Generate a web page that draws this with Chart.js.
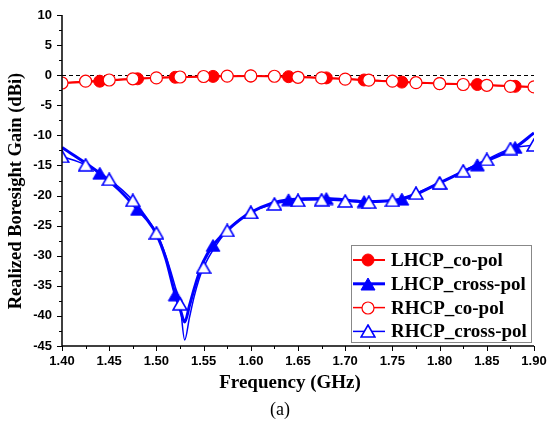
<!DOCTYPE html>
<html>
<head>
<meta charset="utf-8">
<script src="https://cdn.jsdelivr.net/npm/chart.js@4/dist/chart.umd.min.js"></script>
<style>
  html, body { margin: 0; padding: 0; background: #fff; }
</style>
</head>
<body>
<canvas id="grafico" width="547" height="426"></canvas>
<script>
// Dados (frequência em GHz, ganho em dBi)
const lhcpCoFreq = [1.40, 1.44, 1.48, 1.52, 1.56, 1.60, 1.64, 1.68, 1.72, 1.76, 1.80, 1.84, 1.88, 1.90];
const lhcpCoGain = [-1.3, -1.0, -0.6, -0.35, -0.2, -0.15, -0.25, -0.45, -0.8, -1.15, -1.4, -1.55, -1.85, -1.95];

const lhcpCrossFreq = [1.40, 1.44, 1.46, 1.48, 1.49, 1.50, 1.51, 1.52, 1.525, 1.53, 1.535, 1.54, 1.545, 1.55, 1.56, 1.575, 1.60, 1.64, 1.68, 1.72, 1.76, 1.80, 1.84, 1.88, 1.90];
const lhcpCrossGain = [-12.0, -16.3, -19.0, -22.3, -24.0, -26.4, -30.5, -36.5, -38.8, -41.0, -38.3, -35.5, -33.0, -30.9, -28.3, -25.8, -22.8, -20.7, -20.5, -21.0, -20.6, -17.9, -14.9, -12.0, -9.6];

const rhcpCoFreq = [1.40, 1.425, 1.45, 1.475, 1.50, 1.525, 1.55, 1.575, 1.60, 1.625, 1.65, 1.675, 1.70, 1.725, 1.75, 1.775, 1.80, 1.825, 1.85, 1.875, 1.90];
const rhcpCoGain = [-1.3, -1.0, -0.8, -0.6, -0.45, -0.3, -0.22, -0.15, -0.12, -0.18, -0.35, -0.45, -0.65, -0.83, -1.0, -1.25, -1.4, -1.55, -1.68, -1.85, -1.95];

const rhcpCrossFreq = [1.40, 1.425, 1.45, 1.475, 1.50, 1.505, 1.51, 1.515, 1.52, 1.525, 1.53, 1.535, 1.54, 1.545, 1.55, 1.575, 1.60, 1.625, 1.65, 1.675, 1.70, 1.725, 1.75, 1.775, 1.80, 1.825, 1.85, 1.875, 1.90];
const rhcpCrossGain = [-13.5, -14.9, -17.3, -20.8, -26.2, -27.9, -30.0, -32.5, -35.2, -38.0, -44.0, -40.3, -36.8, -34.0, -31.9, -25.8, -22.8, -21.4, -20.8, -20.7, -20.9, -21.1, -20.8, -19.6, -17.9, -15.9, -14.0, -12.2, -11.6];

// Frequências onde aparecem os símbolos
const lhcpMarkerFreq = [1.44, 1.48, 1.52, 1.56, 1.60, 1.64, 1.68, 1.72, 1.76, 1.80, 1.84, 1.88];
const rhcpMarkerFreq = [1.40, 1.425, 1.45, 1.475, 1.50, 1.525, 1.55, 1.575, 1.60, 1.625, 1.65, 1.675, 1.70, 1.725, 1.75, 1.775, 1.80, 1.825, 1.85, 1.875, 1.90];

const xTicks = [1.40, 1.45, 1.50, 1.55, 1.60, 1.65, 1.70, 1.75, 1.80, 1.85, 1.90];
const yTicks = [10, 5, 0, -5, -10, -15, -20, -25, -30, -35, -40, -45];

const RED = '#ff0000';
const BLUE = '#0000ff';

function pontos(freq, gain) {
  return freq.map((f, i) => ({ x: f, y: gain[i] }));
}

// Mostra o símbolo só nas frequências marcadas
function raio(lista, r) {
  return ctx => lista.some(f => Math.abs(f - ctx.raw.x) < 1e-6) ? r : 0;
}

// Triângulo centrado pela caixa (como no Origin), não pelo baricentro
function triangulo(fill, stroke, lw) {
  const c = document.createElement('canvas');
  c.width = 16; c.height = 14;
  const g = c.getContext('2d');
  g.beginPath();
  g.moveTo(8, 1);
  g.lineTo(15, 13);
  g.lineTo(1, 13);
  g.closePath();
  g.fillStyle = fill;
  g.fill();
  g.lineWidth = lw;
  g.strokeStyle = stroke;
  g.stroke();
  return c;
}

const triCheio = triangulo(BLUE, BLUE, 1);
const triVazio = triangulo('#fff', BLUE, 1.6);

const datasets = [
  {
    label: 'LHCP_co-pol',
    data: pontos(lhcpCoFreq, lhcpCoGain),
    borderColor: RED, backgroundColor: RED, borderWidth: 2,
    pointStyle: 'circle', pointRadius: raio(lhcpMarkerFreq, 6),
    pointBackgroundColor: RED, pointBorderColor: RED, pointBorderWidth: 1,
    order: 2
  },
  {
    label: 'LHCP_cross-pol',
    data: pontos(lhcpCrossFreq, lhcpCrossGain),
    borderColor: BLUE, backgroundColor: BLUE, borderWidth: 3,
    pointStyle: triCheio, pointRadius: raio(lhcpMarkerFreq, 7),
    pointBackgroundColor: BLUE, pointBorderColor: BLUE, pointBorderWidth: 1,
    order: 2
  },
  {
    label: 'RHCP_co-pol',
    data: pontos(rhcpCoFreq, rhcpCoGain),
    borderColor: RED, backgroundColor: '#fff', borderWidth: 1.5,
    pointStyle: 'circle', pointRadius: raio(rhcpMarkerFreq, 6),
    pointBackgroundColor: '#fff', pointBorderColor: RED, pointBorderWidth: 1.2,
    order: 1
  },
  {
    label: 'RHCP_cross-pol',
    data: pontos(rhcpCrossFreq, rhcpCrossGain),
    borderColor: BLUE, backgroundColor: '#fff', borderWidth: 1.5,
    pointStyle: triVazio, pointRadius: raio(rhcpMarkerFreq, 7),
    pointBackgroundColor: '#fff', pointBorderColor: BLUE, pointBorderWidth: 1.2,
    order: 1
  }
];

// Eixos, marcas menores, títulos e legenda desenhados à mão
const eixos = {
  id: 'eixos',
  beforeDatasetsDraw(chart) {
    const { ctx, chartArea: a, scales: { y } } = chart;
    const y0 = Math.round(y.getPixelForValue(0)) + 0.5;
    ctx.save();
    ctx.strokeStyle = '#000';
    ctx.lineWidth = 1;
    ctx.setLineDash([4, 3]);
    ctx.beginPath();
    ctx.moveTo(a.left, y0);
    ctx.lineTo(a.right, y0);
    ctx.stroke();
    ctx.restore();
  },
  afterDraw(chart) {
    const { ctx, chartArea: a, scales: { x, y } } = chart;
    ctx.save();
    ctx.strokeStyle = '#000';
    ctx.lineWidth = 1.5;
    ctx.beginPath();
    ctx.moveTo(a.left, a.top);
    ctx.lineTo(a.left, a.bottom);
    ctx.lineTo(a.right, a.bottom);
    ctx.stroke();

    ctx.lineWidth = 1;
    ctx.beginPath();
    // marcas do eixo x (maiores a cada 0.05, menores a cada 0.025)
    for (let i = 0; i <= 20; i++) {
      const px = Math.round(x.getPixelForValue(1.40 + i * 0.025)) + 0.5;
      const len = i % 2 === 0 ? 5 : 3;
      ctx.moveTo(px, a.bottom);
      ctx.lineTo(px, a.bottom + len);
    }
    // marcas do eixo y
    for (let i = 0; i <= 22; i++) {
      const py = Math.round(y.getPixelForValue(-45 + i * 2.5)) + 0.5;
      const len = i % 2 === 0 ? 5 : 3;
      ctx.moveTo(a.left, py);
      ctx.lineTo(a.left - len, py);
    }
    ctx.stroke();

    // títulos
    ctx.fillStyle = '#000';
    ctx.textAlign = 'center';
    ctx.textBaseline = 'middle';
    ctx.font = 'bold 19px "Liberation Serif"';
    ctx.fillText('Frequency (GHz)', 290, 383);
    ctx.font = '18px "Liberation Serif"';
    ctx.fillText('(a)', 280, 410);
    ctx.save();
    ctx.translate(16, 191);
    ctx.rotate(-Math.PI / 2);
    ctx.font = 'bold 18.5px "Liberation Serif"';
    ctx.fillText('Realized Boresight Gain (dBi)', 0, 0);
    ctx.restore();

    // legenda
    const bx = 351, by = 245, bw = 180, bh = 97;
    ctx.fillStyle = '#fff';
    ctx.fillRect(bx, by, bw, bh);
    ctx.strokeStyle = '#888';
    ctx.lineWidth = 1;
    ctx.strokeRect(bx + 0.5, by + 0.5, bw, bh);
    chart.data.datasets.forEach((ds, i) => {
      const ly = 260 + i * 23.8;
      ctx.strokeStyle = ds.borderColor;
      ctx.lineWidth = ds.borderWidth;
      ctx.beginPath();
      ctx.moveTo(353, ly);
      ctx.lineTo(385, ly);
      ctx.stroke();
      ctx.fillStyle = ds.pointBackgroundColor;
      ctx.strokeStyle = ds.pointBorderColor;
      ctx.lineWidth = ds.pointBorderWidth;
      Chart.helpers.drawPoint(ctx, {
        pointStyle: ds.pointStyle,
        radius: 6,
        rotation: 0,
        borderWidth: ds.pointBorderWidth
      }, 368, Math.round(ly));
      ctx.fillStyle = '#000';
      ctx.textAlign = 'left';
      ctx.font = 'bold 19px "Liberation Serif"';
      ctx.fillText(ds.label, 391, ly + 1);
    });
    ctx.restore();
  }
};

new Chart(document.getElementById('grafico'), {
  type: 'line',
  data: { datasets },
  options: {
    responsive: false,
    animation: false,
    devicePixelRatio: 1,
    layout: { padding: { left: 0, right: 13, top: 15, bottom: 0 } },
    elements: { line: { cubicInterpolationMode: 'monotone' } },
    plugins: { legend: { display: false }, tooltip: { enabled: false } },
    scales: {
      x: {
        type: 'linear', min: 1.40, max: 1.90,
        afterBuildTicks: s => { s.ticks = xTicks.map(v => ({ value: v })); },
        afterFit: s => { s.height = 80; s.paddingLeft = 0; s.paddingRight = 0; },
        ticks: {
          callback: v => v.toFixed(2),
          color: '#000', padding: 8, maxRotation: 0, autoSkip: false,
          font: { family: 'Liberation Sans', weight: 'bold', size: 13 }
        },
        grid: { display: false, drawTicks: false },
        border: { display: false }
      },
      y: {
        type: 'linear', min: -45, max: 10,
        afterBuildTicks: s => { s.ticks = yTicks.map(v => ({ value: v })); },
        afterFit: s => { s.width = 62; s.paddingTop = 0; s.paddingBottom = 0; },
        ticks: {
          color: '#000', padding: 10,
          font: { family: 'Liberation Sans', weight: 'bold', size: 13 }
        },
        grid: { display: false, drawTicks: false },
        border: { display: false }
      }
    }
  },
  plugins: [eixos]
});
</script>
</body>
</html>
